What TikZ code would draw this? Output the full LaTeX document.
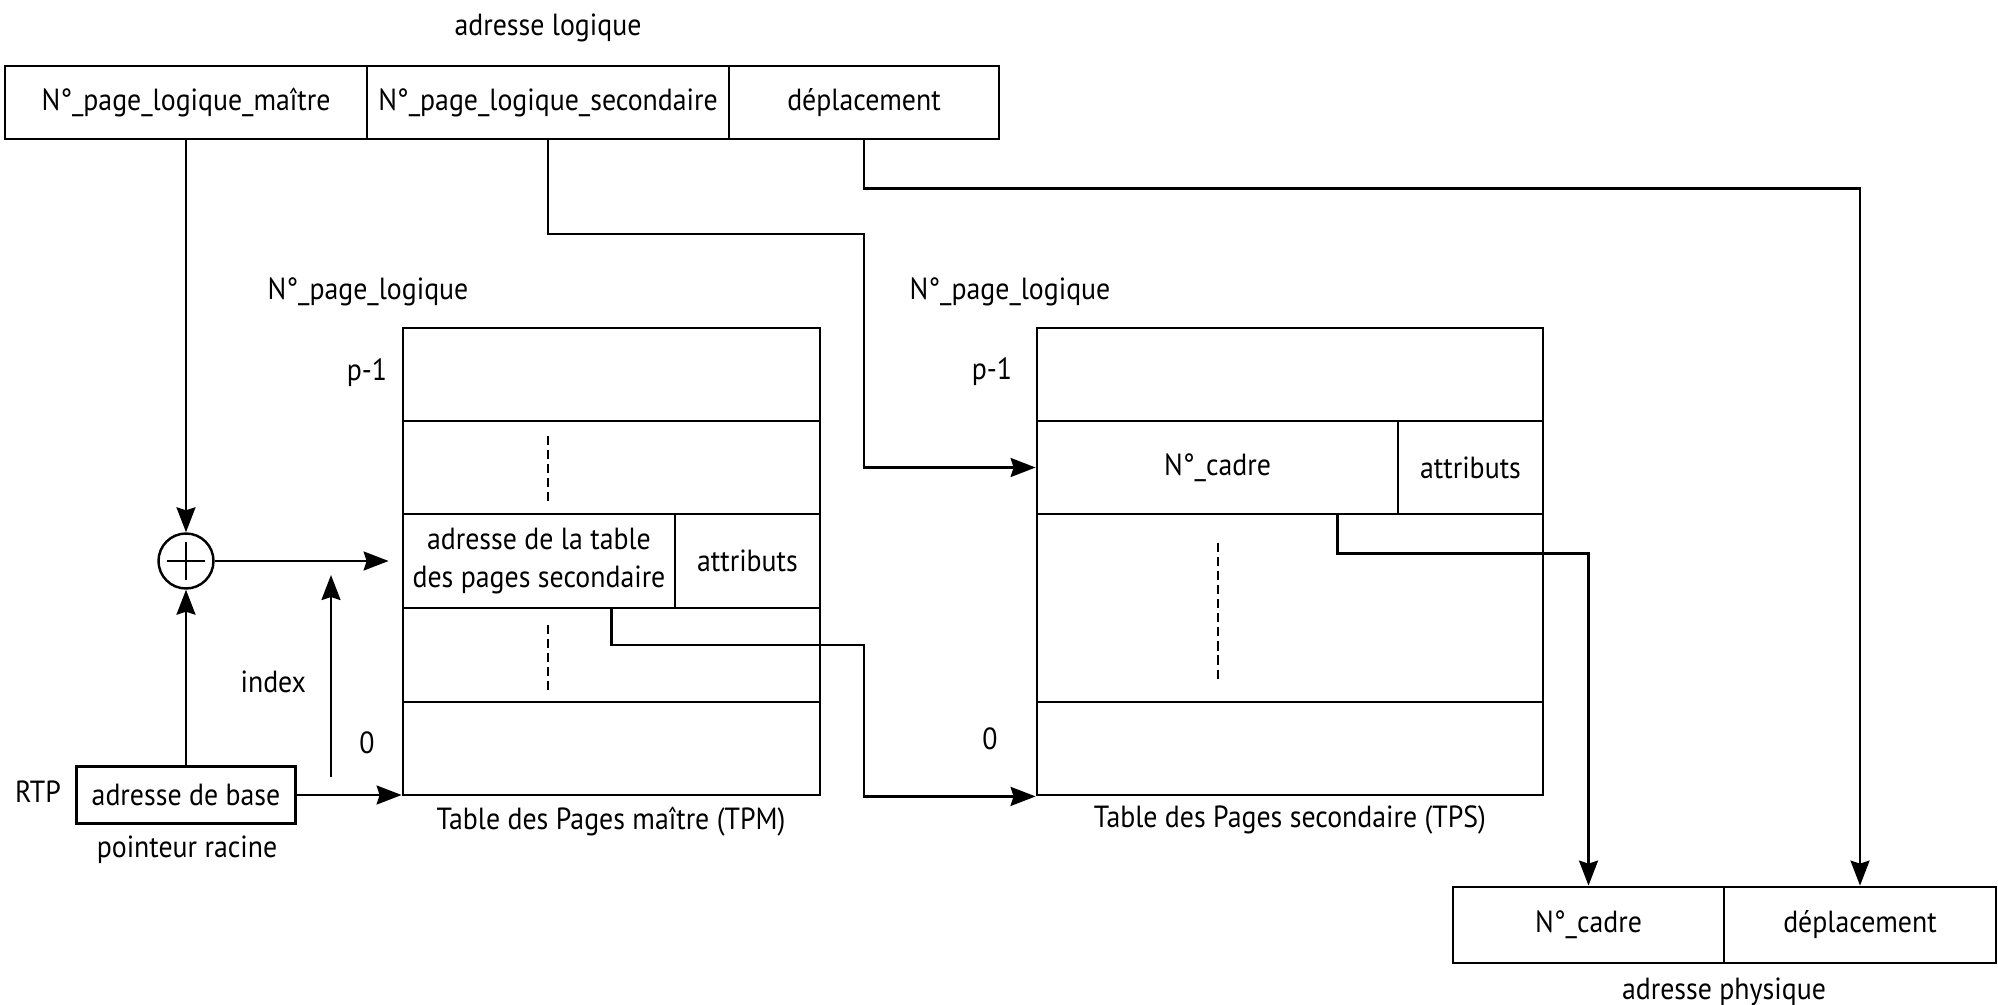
\documentclass[tikz,border=0pt]{standalone}
\usepackage{fontspec}
\setmainfont{PT Sans}[FakeStretch=0.91]
\usetikzlibrary{arrows.meta,calc}

\begin{document}
\begin{tikzpicture}[
  case/.style={draw=black, line width=0.8pt, inner sep=0pt, align=center},
  fleche/.style={black, line width=0.7pt, -{Stealth[length=2.5mm, width=1.9mm, inset=0.3mm]}},
  lien/.style={black, line width=0.7pt},
  pointille/.style={black, line width=0.7pt, dash pattern=on 2.6pt off 1.4pt},
  font=\fontsize{8.7}{10.6}\selectfont
]
  \useasboundingbox (0,0) rectangle (19.98,-10.05);

  % adresse logique
  \node (adrlog) at (5.48,-0.28) {adresse logique};
  \node[case, minimum width=3.62cm, minimum height=0.73cm] (nplm) at (1.86,-1.025) {N°\_page\_logique\_maître};
  \node[case, minimum width=3.62cm, minimum height=0.73cm] (npls) at (5.48,-1.025) {N°\_page\_logique\_secondaire};
  \node[case, minimum width=2.70cm, minimum height=0.73cm] (depl) at (8.64,-1.025) {déplacement};

  % table des pages maitre
  \node (tpmnum) at (3.68,-2.92) {N°\_page\_logique};
  \node[case, minimum width=4.17cm, minimum height=0.93cm] (tpmpm) at (6.115,-3.745) {};
  \node[case, minimum width=4.17cm, minimum height=0.93cm] (tpmdots) at (6.115,-4.675) {};
  \node[case, minimum width=2.72cm, minimum height=0.94cm] (tpmadr) at (5.39,-5.61) {adresse de la table\\des pages secondaire};
  \node[case, minimum width=1.45cm, minimum height=0.94cm] (tpmattr) at (7.475,-5.61) {attributs};
  \node[case, minimum width=4.17cm, minimum height=0.94cm] (tpmdotsb) at (6.115,-6.55) {};
  \node[case, minimum width=4.17cm, minimum height=0.93cm] (tpmz) at (6.115,-7.485) {};
  \node (tpmp) at (3.67,-3.73) {p-1};
  \node (tpmzero) at (3.67,-7.43) {0};
  \node (tpmtitre) at (6.11,-8.22) {Table des Pages maître (TPM)};
  \draw[pointille] (5.48,-4.36) -- (5.48,-5.02);
  \draw[pointille] (5.48,-6.25) -- (5.48,-6.92);

  % table des pages secondaire
  \node (tpsnum) at (10.10,-2.92) {N°\_page\_logique};
  \node[case, minimum width=5.06cm, minimum height=0.93cm] (tpspm) at (12.90,-3.745) {};
  \node[case, minimum width=3.61cm, minimum height=0.93cm] (tpscadre) at (12.175,-4.675) {N°\_cadre};
  \node[case, minimum width=1.45cm, minimum height=0.93cm] (tpsattr) at (14.705,-4.675) {attributs};
  \node[case, minimum width=5.06cm, minimum height=1.88cm] (tpsdots) at (12.90,-6.08) {};
  \node[case, minimum width=5.06cm, minimum height=0.93cm] (tpsz) at (12.90,-7.485) {};
  \node (tpsp) at (9.92,-3.72) {p-1};
  \node (tpszero) at (9.90,-7.39) {0};
  \node (tpstitre) at (12.90,-8.20) {Table des Pages secondaire (TPS)};
  \draw[pointille] (12.18,-5.43) -- (12.18,-6.83);

  % pointeur racine et additionneur
  \node[case, minimum width=2.19cm, minimum height=0.57cm] (rtp) at (1.86,-7.95) {adresse de base};
  \node (rtpnom) at (0.38,-7.92) {RTP};
  \node (rtptitre) at (1.87,-8.50) {pointeur racine};
  \node[draw=black, line width=0.7pt, circle, minimum size=0.55cm, inner sep=0pt] (plus) at (1.86,-5.61) {};
  \draw[lien] ($(plus.center)+(-0.19,0)$) -- ($(plus.center)+(0.19,0)$);
  \draw[lien] ($(plus.center)+(0,-0.19)$) -- ($(plus.center)+(0,0.19)$);

  % adresse physique
  \node[case, minimum width=2.71cm, minimum height=0.76cm] (pcadre) at (15.885,-9.25) {N°\_cadre};
  \node[case, minimum width=2.72cm, minimum height=0.76cm] (pdepl) at (18.60,-9.25) {déplacement};
  \node (adrphys) at (17.24,-9.92) {adresse physique};

  % liaisons
  \coordinate (idxbas) at (3.31,-7.77);
  \coordinate (idxhaut) at (3.31,-5.75);
  \coordinate (coudea) at (8.64,-2.34);
  \coordinate (coudeb) at (8.64,-6.45);

  \draw[fleche] (nplm.south) -- (plus.north);
  \draw[fleche] (rtp.north) -- (plus.south);
  \draw[fleche] (plus.east) -- ([xshift=-0.13cm]tpmadr.west);
  \draw[fleche] (idxbas) -- (idxhaut) node[pos=0.47, left=0.12cm, black] {index};
  \draw[fleche] (rtp.east) -- (rtp.east -| tpmz.west);
  \draw[fleche] (npls.south) |- (coudea) |- (tpscadre.west);
  \draw[fleche] (tpmadr.south -| tpmz.center) |- (coudeb) |- (tpsz.south west);
  \draw[fleche] ($(tpscadre.south west)!0.83!(tpscadre.south east)$) -- ++(0,-0.38) -| (pcadre.north);
  \draw[fleche] (depl.south) -- ++(0,-0.48) -| (pdepl.north);

\end{tikzpicture}
\end{document}
